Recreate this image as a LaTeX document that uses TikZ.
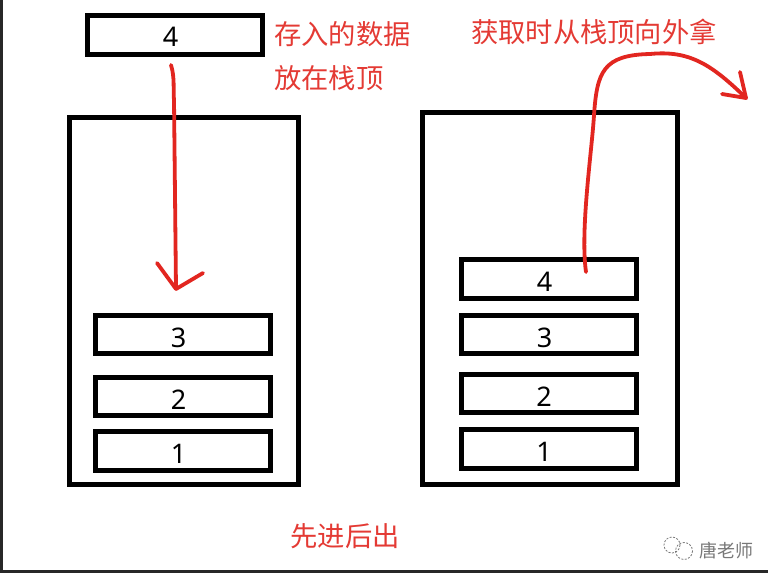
\documentclass[tikz,border=0pt]{standalone}
\usepackage{fontspec}
\setmainfont{Noto Sans}
\newfontfamily\cjk{Noto Sans CJK SC}
\definecolor{penred}{RGB}{226,38,32}
\definecolor{notered}{RGB}{228,58,52}
\definecolor{markgray}{RGB}{120,120,120}
\definecolor{edgedark}{RGB}{40,40,40}
\tikzset{
  stackwall/.style={draw=black, line width=5pt, inner sep=0pt},
  slot/.style={draw=black, line width=5pt, inner sep=0pt,
    minimum width=175pt, minimum height=38.5pt,
    text height=25pt, text depth=0pt,
    font=\fontsize{27}{27}\selectfont, execute at begin node={\kern-9pt}},
  note/.style={text=notered, inner sep=0pt, font=\cjk\fontsize{27.3}{28}\selectfont},
  redpen/.style={draw=penred, line width=3.8pt, line cap=round, line join=round},
}
\begin{document}
\begin{tikzpicture}[x=1pt,y=-1pt]
  \useasboundingbox (0,0) rectangle (768,573);
  \fill[white] (0,0) rectangle (768,573);
  % frame edges of the slide
  \fill[edgedark] (0,0) rectangle (2.5,573);
  \fill[edgedark] (0,569.5) rectangle (768,573);

  % item waiting to be pushed
  \node[slot, minimum height=39pt, text height=23pt] (incoming) at (175,35) {4};
  \node[note, anchor=west] (pushnote1) at (274,34) {存入的数据};
  \node[note, anchor=west] (pushnote2) at (274,78) {放在栈顶};

  % left stack
  \node[stackwall, minimum width=229pt, minimum height=367pt] (stackL) at (184,301) {};
  \node[slot] (l3) at (183,334.5) {3};
  \node[slot] (l2) at (183,396.5) {2};
  \node[slot] (l1) at (183,451) {1};

  % right stack
  \node[stackwall, minimum width=255pt, minimum height=372pt] (stackR) at (550,298.5) {};
  \node[slot] (r4) at (549,279) {4};
  \node[slot] (r3) at (549,334.5) {3};
  \node[slot] (r2) at (548.5,393.5) {2};
  \node[slot] (r1) at (548.5,449) {1};

  \node[note] (popnote) at (594,32) {获取时从栈顶向外拿};
  \node[note] (lifo) at (345,536) {先进后出};

  % push stroke
  \coordinate (dropfrom) at (171,65);
  \coordinate (dropto) at (176,289);
  \draw[redpen] (dropfrom) .. controls (175,78) and (173,90) .. (174,100) -- (dropto);
  \draw[redpen] (157,263) -- (dropto) -- (203,273);

  % pop stroke
  \coordinate (pickup) at (586,272);
  \coordinate (away) at (746,98);
  \draw[redpen] (pickup) .. controls (580,230) and (592,150) .. (594,115)
    .. controls (597,72) and (603,55) .. (650,54)
    .. controls (690,50) and (712,65) .. (away);
  \draw[redpen] (722,94) -- (away) -- (740,72);

  % author mark
  \draw[markgray, line width=0.8pt, dash pattern=on 2pt off 1.5pt]
    (672,545) circle (8) (684,551) circle (8.5);
  \node[text=markgray, anchor=west, inner sep=0pt,
    font=\cjk\fontsize{18}{18}\selectfont] (mark) at (699,551) {唐老师};
\end{tikzpicture}
\end{document}
